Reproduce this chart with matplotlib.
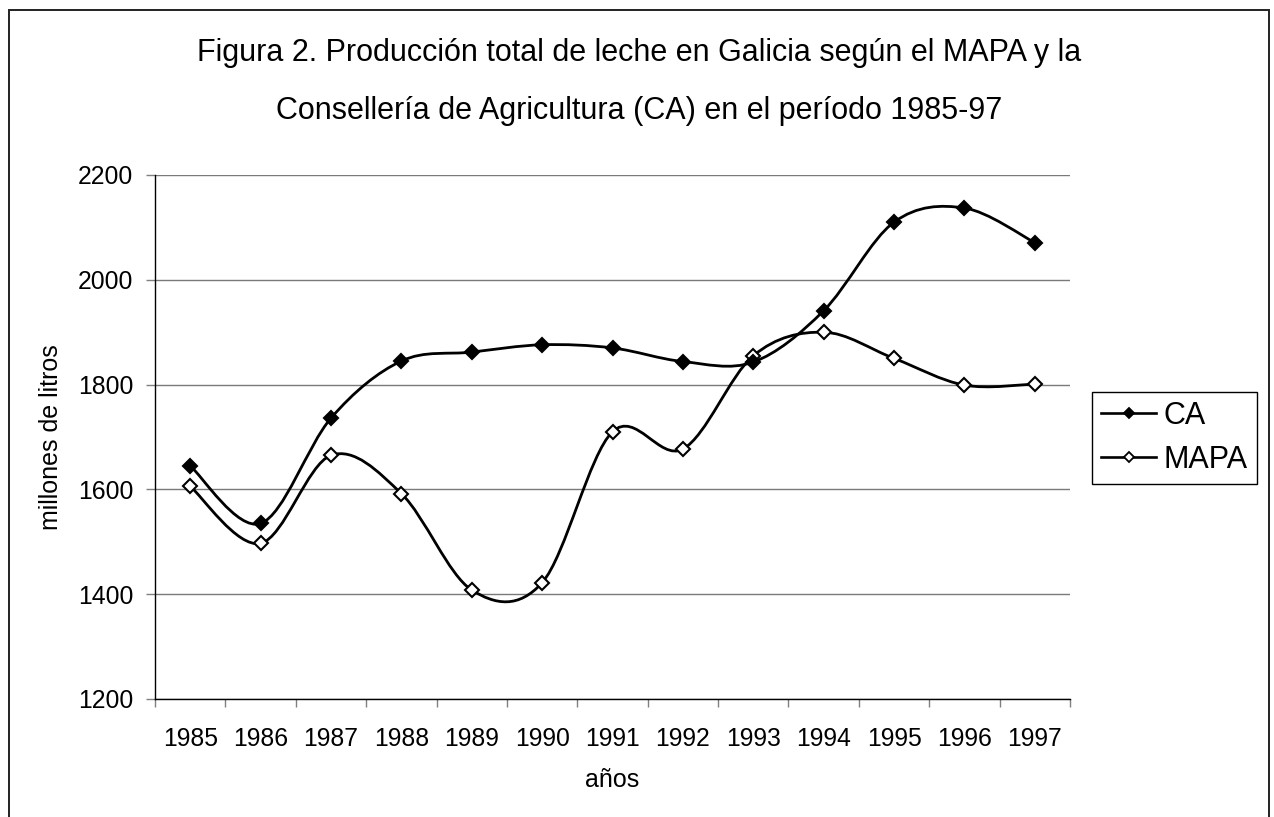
import numpy as np
import matplotlib
matplotlib.use("Agg")
import matplotlib.pyplot as plt
from matplotlib.path import Path
from matplotlib.patches import PathPatch, Rectangle
from matplotlib.lines import Line2D
from matplotlib.ticker import MultipleLocator, FixedLocator

plt.rcParams['font.family'] = ['Liberation Sans', 'DejaVu Sans']

years = ['1985', '1986', '1987', '1988', '1989', '1990', '1991',
         '1992', '1993', '1994', '1995', '1996', '1997']
ca = [1645, 1535, 1736, 1845, 1862, 1876, 1870, 1844, 1843, 1941, 2110, 2137, 2071]
mapa = [1606, 1497, 1665, 1592, 1408, 1422, 1710, 1677, 1855, 1900, 1850, 1799, 1801]

title_l1 = "Figura 2. Producción total de leche en Galicia según el MAPA y la"
title_l2 = "Consellería de Agricultura (CA) en el período 1985-97"
xlabel = "años"
ylabel = "millones de litros"

W, H = 1274, 817
fig = plt.figure(figsize=(W / 100, H / 100), dpi=100)
ax = fig.add_axes([155 / W, 1 - 699 / H, (1070 - 155) / W, (699 - 175) / H])


def smooth_path(xs, ys):
    xs = np.asarray(xs, float)
    ys = np.asarray(ys, float)
    n = len(xs)
    verts = [(xs[0], ys[0])]
    codes = [Path.MOVETO]
    for i in range(n - 1):
        i0 = max(i - 1, 0)
        i3 = min(i + 2, n - 1)
        c1 = (xs[i] + (xs[i + 1] - xs[i0]) / 6, ys[i] + (ys[i + 1] - ys[i0]) / 6)
        c2 = (xs[i + 1] - (xs[i3] - xs[i]) / 6, ys[i + 1] - (ys[i3] - ys[i]) / 6)
        verts += [c1, c2, (xs[i + 1], ys[i + 1])]
        codes += [Path.CURVE4] * 3
    return Path(verts, codes)


x = np.arange(len(years))
for vals, fc in [(mapa, 'white'), (ca, 'black')]:
    ax.add_patch(PathPatch(smooth_path(x, vals), facecolor='none',
                           edgecolor='black', lw=2.0, zorder=3))
    ax.plot(x, vals, linestyle='none', marker='D', markersize=6.8,
            markerfacecolor=fc, markeredgecolor='black', markeredgewidth=1.5,
            zorder=4)

ax.set_xlim(-0.5, len(years) - 0.5)
ax.set_ylim(1200, 2200)
ax.yaxis.set_major_locator(MultipleLocator(200))
ax.set_xticks(x)
ax.set_xticklabels(years)
ax.xaxis.set_minor_locator(FixedLocator(np.arange(-0.5, len(years), 1.0)))
ax.tick_params(axis='x', which='major', length=0, pad=20, labelsize=17.8)
ax.tick_params(axis='x', which='minor', length=6, width=1, color='#808080', direction='out')
ax.tick_params(axis='y', which='major', length=6.5, width=1, color='#808080',
               pad=9, labelsize=17.8)
ax.grid(axis='y', color='#7a7a7a', lw=1.0)
ax.set_axisbelow(True)
for s in ['top', 'right']:
    ax.spines[s].set_visible(False)
ax.spines['left'].set_color('black')
ax.spines['bottom'].set_color('black')
ax.spines['left'].set_linewidth(1.0)
ax.spines['bottom'].set_linewidth(1.0)

ax.set_xlabel(xlabel, fontsize=18)
ax.xaxis.set_label_coords(0.5, (699 - 768) / 524)
ax.set_ylabel(ylabel, fontsize=18)
ax.yaxis.set_label_coords((63 - 155) / 915, 0.5)

fig.text(639 / W, 1 - 61 / H, title_l1, ha='center', va='baseline', fontsize=22)
fig.text(639 / W, 1 - 119 / H, title_l2, ha='center', va='baseline', fontsize=22)

handles = [Line2D([], [], color='black', lw=1.9, marker='D', markersize=5,
                  markerfacecolor='black', markeredgecolor='black', markeredgewidth=1.3),
           Line2D([], [], color='black', lw=1.9, marker='D', markersize=5,
                  markerfacecolor='white', markeredgecolor='black', markeredgewidth=1.3)]
leg = fig.legend(handles, ['CA', 'MAPA'], loc='center left',
                 bbox_to_anchor=(1092 / W, 1 - 438 / H), fontsize=22,
                 frameon=True, fancybox=False, edgecolor='black', framealpha=1,
                 handlelength=1.8, handletextpad=0.25, labelspacing=0.45,
                 borderpad=0.3, borderaxespad=0)
leg.get_frame().set_linewidth(1.0)

fig.add_artist(Rectangle((9 / W, -0.05), (1269 - 9) / W, 1.05 - 10 / H,
                         transform=fig.transFigure, fill=False,
                         edgecolor='#222222', lw=1.4))

fig.savefig('out.png', dpi=100)
